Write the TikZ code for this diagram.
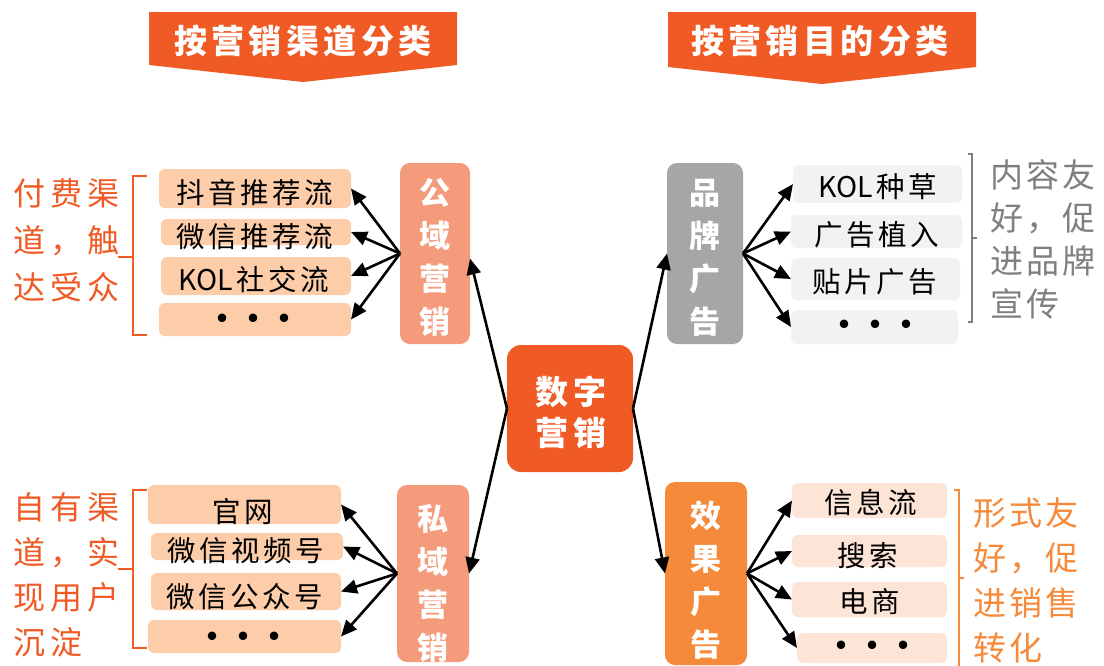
\documentclass[tikz,border=0pt]{standalone}
\usepackage{fontspec}
\setmainfont{Noto Sans CJK SC}
\usetikzlibrary{arrows.meta}
\definecolor{ored}{HTML}{F05A24}
\definecolor{salmon}{HTML}{F49B7B}
\definecolor{peach}{HTML}{FDCDAA}
\definecolor{gbox}{HTML}{A6A6A6}
\definecolor{lgray}{HTML}{F2F2F2}
\definecolor{gtext}{HTML}{7F7F7F}
\definecolor{orng}{HTML}{F58A3B}
\definecolor{lpeach}{HTML}{FCE4D6}
\newcommand\lsamt{0pt}
\newcommand\ls[2]{\def\lsamt{#1}\lsloop#2\lsend}
\def\lsloop#1#2\lsend{#1\ifx\relax#2\relax\else\kern\lsamt\lsloop#2\lsend\fi}
\newcommand\tdots{{\fontsize{40}{40}\selectfont\makebox[31pt]{•}\makebox[31pt]{•}\makebox[31pt]{•}}}
\tikzset{
  boxbase/.style={inner sep=0pt, outer sep=0pt},
  itembox/.style={boxbase, rounded corners=6pt},
  bigbox/.style={boxbase, rounded corners=10pt},
  itxt/.style={inner sep=0pt, font={\fontsize{28.5}{34}\selectfont}, text=black},
  vtxt/.style={inner sep=0pt, align=center, text=white, font={\fontsize{31}{43}\selectfont\bfseries}},
  lbl/.style={inner sep=0pt, align=left, anchor=west},
  ttl/.style={inner sep=0pt, text=white, font={\fontsize{33}{40}\selectfont\bfseries}},
  arr/.style={line width=2.6pt, -{Triangle[length=16pt,width=14pt]}},
  brc/.style={line width=2pt},
}
\begin{document}
\begin{tikzpicture}[x=1pt,y=-1pt]
\useasboundingbox (0,0) rectangle (1104,665);
\fill[white] (0,0) rectangle (1104,665);
% banners
\fill[ored] (149,12) -- (457,12) -- (457,65) -- (303,82) -- (149,65) -- cycle;
\node[ttl] (t1) at (303,41) {\ls{4.5pt}{按营销渠道分类}};
\fill[ored] (668,12) -- (976,12) -- (976,67) -- (822,84) -- (668,67) -- cycle;
\node[ttl] (t2) at (820,41) {\ls{4.5pt}{按营销目的分类}};
% centre
\node[bigbox, rounded corners=14pt, fill=ored, minimum width=126, minimum height=127] (sz) at (570,408.5) {};
\node[ttl, font={\fontsize{33}{41}\selectfont\bfseries}, align=center] (szt) at (571,412) {\ls{5pt}{数字}\\\ls{5pt}{营销}};
% big boxes
\node[bigbox, fill=salmon, minimum width=70, minimum height=181] (gy) at (435,253.5) {};
\node[vtxt] (gyt) at (435,257.5) {公\\域\\营\\销};
\node[bigbox, fill=salmon, minimum width=72, minimum height=177] (sy) at (433,573.5) {};
\node[vtxt] (syt) at (433,583) {私\\域\\营\\销};
\node[bigbox, fill=gbox, minimum width=76, minimum height=181] (pp) at (705,253.5) {};
\node[vtxt] (ppt) at (705,258) {品\\牌\\广\\告};
\node[bigbox, fill=orng, minimum width=82, minimum height=183] (xg) at (706,573.5) {};
\node[vtxt] (xgt) at (706,580) {效\\果\\广\\告};
% upper-left items
\node[itembox, fill=peach, minimum width=192, minimum height=39] (a1) at (255,188.5) {};
\node[itxt] (a1t) at (255,193) {\ls{3.5pt}{抖音推荐流}};
\node[itembox, fill=peach, minimum width=190, minimum height=26] (a2) at (256,232) {};
\node[itxt] (a2t) at (255,237) {\ls{3.5pt}{微信推荐流}};
\node[itembox, fill=peach, minimum width=190, minimum height=38] (a3) at (256,276) {};
\node[itxt] (a3t) at (254,280) {\ls{3.5pt}{{KOL}社交流}};
\node[itembox, fill=peach, minimum width=192, minimum height=33] (a4) at (255,319.5) {};
\node[itxt] (a4t) at (253,324) {\tdots};
% lower-left items
\node[itembox, fill=peach, minimum width=193, minimum height=39] (b1) at (244.5,504.5) {};
\node[itxt] (b1t) at (243,512) {\ls{3.5pt}{官网}};
\node[itembox, fill=peach, minimum width=192, minimum height=27] (b2) at (247,546.5) {};
\node[itxt] (b2t) at (246,551) {\ls{3.5pt}{微信视频号}};
\node[itembox, fill=peach, minimum width=190, minimum height=37] (b3) at (246,591.5) {};
\node[itxt] (b3t) at (245,597) {\ls{3.5pt}{微信公众号}};
\node[itembox, fill=peach, minimum width=193, minimum height=33] (b4) at (244.5,636.5) {};
\node[itxt] (b4t) at (243,642) {\tdots};
% upper-right items
\node[itembox, fill=lgray, minimum width=169, minimum height=38] (c1) at (877.5,184) {};
\node[itxt] (c1t) at (878,187) {\ls{3.5pt}{{KOL}种草}};
\node[itembox, fill=lgray, minimum width=171, minimum height=33] (c2) at (876.5,231.5) {};
\node[itxt] (c2t) at (877,235) {\ls{3.5pt}{广告植入}};
\node[itembox, fill=lgray, minimum width=169, minimum height=42] (c3) at (875.5,279) {};
\node[itxt] (c3t) at (875,282) {\ls{3.5pt}{贴片广告}};
\node[itembox, fill=lgray, minimum width=167, minimum height=34] (c4) at (874.5,327) {};
\node[itxt] (c4t) at (875,330) {\tdots};
% lower-right items
\node[itembox, fill=lpeach, minimum width=155, minimum height=35] (d1) at (869.5,500.5) {};
\node[itxt] (d1t) at (871,503) {\ls{3.5pt}{信息流}};
\node[itembox, fill=lpeach, minimum width=155, minimum height=32] (d2) at (869.5,551) {};
\node[itxt] (d2t) at (868,556) {\ls{3.5pt}{搜索}};
\node[itembox, fill=lpeach, minimum width=155, minimum height=35] (d3) at (869.5,599.5) {};
\node[itxt] (d3t) at (870,602) {\ls{3.5pt}{电商}};
\node[itembox, fill=lpeach, minimum width=150, minimum height=30] (d4) at (872,648) {};
\node[itxt] (d4t) at (872,651) {\tdots};
% side labels
\node[lbl, text=ored, font={\fontsize{32}{47}\selectfont}] (l1) at (13,240)
  {\ls{5pt}{付费渠}\\\ls{5pt}{道，触}\\\ls{5pt}{达受众}};
\node[lbl, text=ored, font={\fontsize{32}{45}\selectfont}] (l2) at (13,574.5)
  {\ls{5pt}{自有渠}\\\ls{5pt}{道，实}\\\ls{5pt}{现用户}\\\ls{5pt}{沉淀}};
\node[lbl, text=gtext, font={\fontsize{33}{43}\selectfont}] (r1) at (990,239)
  {\ls{3pt}{内容友}\\\ls{3pt}{好，促}\\\ls{3pt}{进品牌}\\\ls{3pt}{宣传}};
\node[lbl, text=orng, font={\fontsize{33}{45}\selectfont}] (r2) at (973,580)
  {\ls{3pt}{形式友}\\\ls{3pt}{好，促}\\\ls{3pt}{进销售}\\\ls{3pt}{转化}};
% braces
\draw[brc, ored] (147,176) -- (133,176) -- (133,335) -- (147,335);
\draw[brc, ored] (133,257) -- (118,257);
\draw[brc, ored] (147,490) -- (133,490) -- (133,648) -- (147,648);
\draw[brc, ored] (133,569) -- (118,569);
\draw[line width=1.5pt, gtext] (968,154) -- (972,154) -- (972,322) -- (968,322);
\draw[line width=1.5pt, gtext] (972,238) -- (977,238);
\draw[brc, orng] (954,490) -- (959,490) -- (959,670);
\draw[brc, orng] (959,578) -- (964,578);
% arrows
\foreach \t in {a1,a2,a3,a4} \draw[arr] (gy.west) -- (\t.east);
\foreach \t in {b1,b2,b3,b4} \draw[arr] (sy.west) -- (\t.east);
\foreach \t in {c1,c2,c3,c4} \draw[arr] (pp.east) -- (\t.west);
\foreach \t in {d1,d2,d3,d4} \draw[arr] (xg.east) -- (\t.west);
\draw[arr] (sz.west) -- ([yshift=-5pt]gy.east);
\draw[arr] (sz.west) -- (sy.east);
\draw[arr] (sz.east) -- (pp.west);
\draw[arr] (sz.east) -- (xg.west);
\end{tikzpicture}
\end{document}
